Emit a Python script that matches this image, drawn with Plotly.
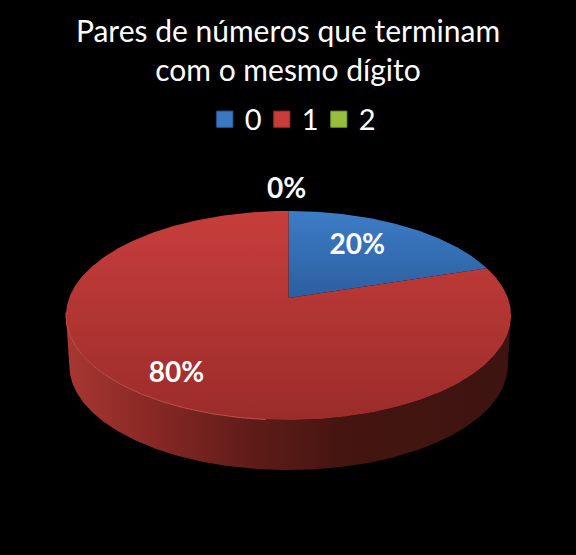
import numpy as np
import plotly.graph_objects as go

categories = ["0", "1", "2"]
shares = [20, 80, 0]
title_lines = ["Pares de números que terminam", "com o mesmo dígito"]

legend_colors = ["#3a78c4", "#c93c3a", "#98bf3c"]
legend_dark = ["#2f66a8", "#a83030", "#7fa52f"]
top_scales = [
    [[0, "#3d7cc7"], [1, "#2b5f9f"]],
    [[0, "#c73e3c"], [1, "#9b2c2a"]],
    [[0, "#a0c84a"], [1, "#7fa52f"]],
]
side_scales = [
    [[0, "#1d3f6c"], [1, "#1a3658"]],
    [[0, "#a83732"], [0.17, "#8c2a26"], [0.42, "#5f1c19"], [0.62, "#451510"], [1, "#3d1410"]],
    [[0, "#55702a"], [1, "#3e5220"]],
]
label_radius = [0.62, 0.79, 1.31]
label_nudge = [(-5, -4), (2, 4), (-2, 2)]

CX, APEX, R, PERSP, TILT, DEPTH, BOTTOM_SCALE = 288.5, 298.0, 219.4, 0.1675, -51.7, 50.0, 0.985


def project(theta_deg, r=1.0):
    t = np.radians(theta_deg)
    u, v = r * np.sin(t), r * np.cos(t)
    w = 1 + PERSP * v
    return CX + R * u / w, (APEX + TILT * v) / w


def arc(a, b):
    n = max(2, int(abs(b - a)) * 2 + 1)
    return np.linspace(a, b, n)


front_start, front_end = 99.6, 260.4
edges = np.cumsum([0] + shares) / sum(shares) * 360

fig = go.Figure()

# sides of the disc
for i, cat in enumerate(categories):
    a, b = max(edges[i], front_start), min(edges[i + 1], front_end)
    if b <= a:
        continue
    th = arc(a, b)
    tx, ty = project(th)
    bx = CX + (tx - CX) * BOTTOM_SCALE
    by = ty + DEPTH
    fig.add_trace(go.Scatter(
        x=np.r_[tx, bx[::-1]], y=np.r_[ty, by[::-1]], mode="lines", fill="toself",
        line=dict(width=0), fillgradient=dict(type="horizontal", colorscale=side_scales[i]),
        showlegend=False, hoverinfo="skip"))

# top face
for i, cat in enumerate(categories):
    if shares[i] == 0:
        continue
    ax, ay = project(0.0, 0.0)
    tx, ty = project(arc(edges[i], edges[i + 1]))
    px, py = np.r_[ax, tx, ax], np.r_[ay, ty, ay]
    fig.add_trace(go.Scatter(
        x=px, y=py, mode="lines", fill="toself", line=dict(width=0),
        fillgradient=dict(type="vertical", colorscale=top_scales[i], start=py.min(), stop=py.max()),
        showlegend=False, hoverinfo="skip"))

# light rim on the lit side
rx, ry = project(arc(185, 262))
fig.add_trace(go.Scatter(x=rx, y=ry, mode="lines", line=dict(color="#c4504a", width=1),
                         showlegend=False, hoverinfo="skip"))

# legend entries
for i, cat in enumerate(categories):
    fig.add_trace(go.Scatter(
        x=[None], y=[None], mode="markers", name=cat,
        marker=dict(symbol="square", size=16, color=legend_colors[i],
                    line=dict(color=legend_dark[i], width=1)),
        hoverinfo="skip"))

# percentage labels
lx, ly, lt = [], [], []
for i in range(len(categories)):
    x, y = project((edges[i] + edges[i + 1]) / 2, label_radius[i])
    lx.append(float(x) + label_nudge[i][0]); ly.append(float(y) + label_nudge[i][1])
    lt.append(f"<b>{shares[i] / sum(shares):.0%}</b>")
fig.add_trace(go.Scatter(x=lx, y=ly, mode="text", text=lt, textposition="middle center",
                         textfont=dict(family="Lato", size=28, color="white"),
                         showlegend=False, hoverinfo="skip"))

fig.update_layout(
    width=576, height=555, margin=dict(l=0, r=0, t=0, b=0),
    paper_bgcolor="black", plot_bgcolor="black",
    font=dict(family="Lato", color="white"),
    title=dict(text="<br>".join(title_lines), x=0.5, xanchor="center", y=0.925, yanchor="top",
               font=dict(family="Lato", size=30, color="white")),
    legend=dict(orientation="h", x=0.504, xanchor="center", y=0.785, yanchor="middle",
                font=dict(family="Lato", size=29, color="white"), bgcolor="rgba(0,0,0,0)",
                itemsizing="trace", itemwidth=30, entrywidth=12, entrywidthmode="pixels",
                itemclick=False, itemdoubleclick=False),
    xaxis=dict(range=[0, 576], visible=False, fixedrange=True),
    yaxis=dict(range=[555, 0], visible=False, fixedrange=True),
)
fig.write_html(
    "out.html", config=dict(displayModeBar=False),
    post_script="document.documentElement.style.background='black';"
                "document.body.style.margin='0';document.body.style.background='black';"
                "document.body.style.overflow='hidden';",
)
